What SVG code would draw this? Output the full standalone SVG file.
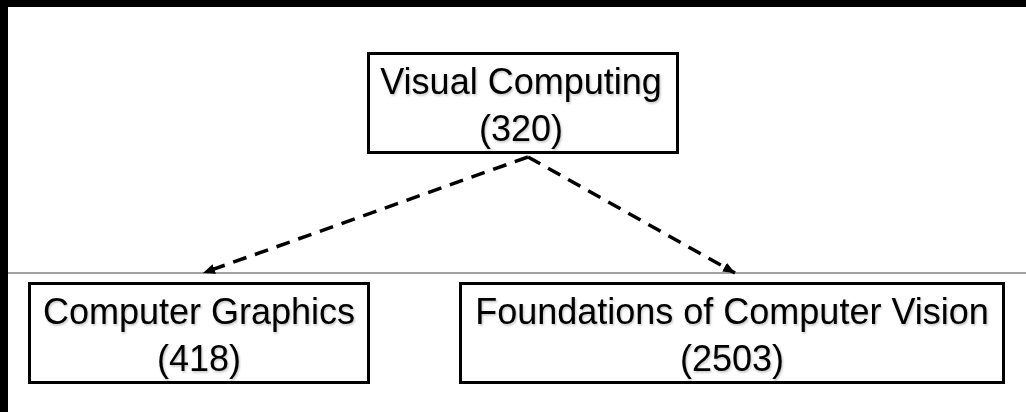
<svg xmlns="http://www.w3.org/2000/svg" width="1026" height="412" viewBox="0 0 1026 412">
<style>
.box{fill:#fff;stroke:#000;stroke-width:3}
.lbl{font-family:"Liberation Sans",Arial,sans-serif;font-size:36px;fill:#000;text-anchor:middle;filter:url(#sh)}
.edge{fill:none;stroke:#000;stroke-width:3.5;stroke-dasharray:14 9}
</style>
<defs>
<filter id="sh" x="-5%" y="-20%" width="110%" height="140%">
<feDropShadow dx="1" dy="1.5" stdDeviation="1" flood-color="#000" flood-opacity="0.25"/>
</filter>
<marker id="ah" viewBox="0 0 12 10" refX="12" refY="5" markerWidth="12" markerHeight="10" markerUnits="userSpaceOnUse" orient="auto">
<path d="M0,0 L12,5 L0,10 z" fill="#000"/>
</marker>
</defs>
<rect x="0" y="0" width="1026" height="412" fill="#fff"/>
<rect x="0" y="0" width="1026" height="7" fill="#000"/>
<rect x="0" y="0" width="8" height="412" fill="#000"/>
<line x1="8" y1="273" x2="1026" y2="273" stroke="#444" stroke-width="1"/>
<g id="connectors">
<line class="edge" x1="528" y1="157" x2="203" y2="273" marker-end="url(#ah)"/>
<line class="edge" x1="528" y1="157" x2="735" y2="273" marker-end="url(#ah)"/>
</g>
<g id="visual-computing">
<rect class="box" x="368.5" y="53.5" width="309" height="99"/>
<text class="lbl" x="521" y="94">Visual Computing</text>
<text class="lbl" x="521" y="141">(320)</text>
</g>
<g id="computer-graphics">
<rect class="box" x="29.5" y="283.5" width="339" height="99"/>
<text class="lbl" x="199" y="324">Computer Graphics</text>
<text class="lbl" x="199" y="371">(418)</text>
</g>
<g id="foundations-cv">
<rect class="box" x="460.5" y="283.5" width="543" height="99"/>
<text class="lbl" x="732" y="324">Foundations of Computer Vision</text>
<text class="lbl" x="732" y="371">(2503)</text>
</g>
</svg>
